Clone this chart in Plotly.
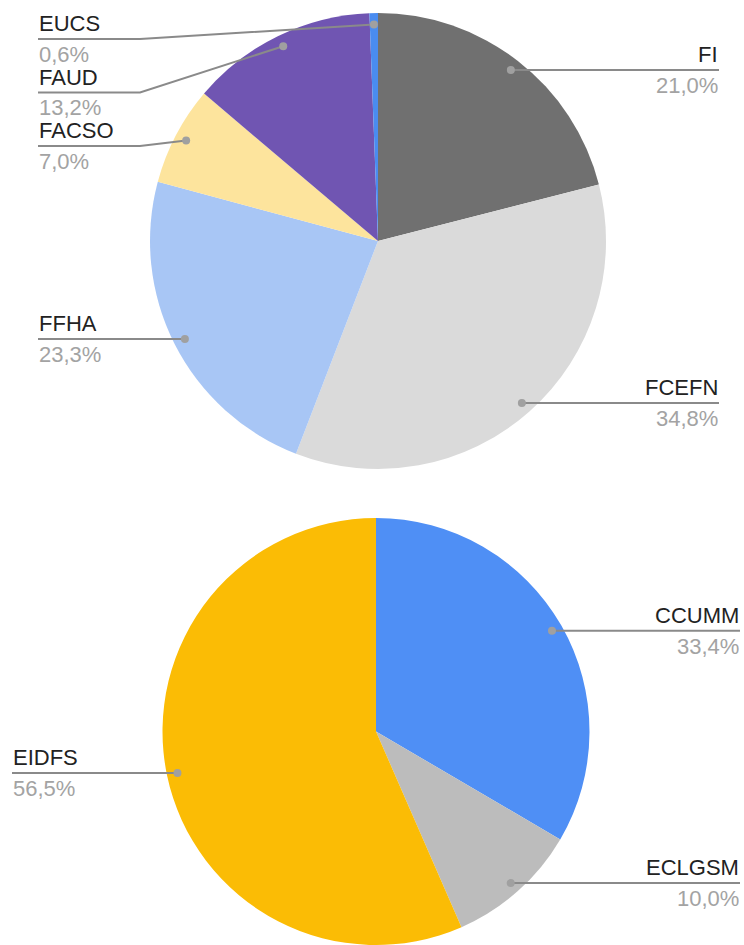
import numpy as np
import plotly.graph_objects as go

W, H = 744, 945

# top pie
top_labels = ['FI', 'FCEFN', 'FFHA', 'FACSO', 'FAUD', 'EUCS']
top_values = [21.0, 34.8, 23.3, 7.0, 13.2, 0.6]
top_colors = ['#707070', '#dadada', '#a8c6f5', '#fde49d', '#7055b2', '#4a8cf0']

# bottom pie
bottom_labels = ['CCUMM', 'ECLGSM', 'EIDFS']
bottom_values = [33.4, 10.0, 56.5]
bottom_colors = ['#4f8ff5', '#bcbcbc', '#fbbc05']

FONT = 'Liberation Sans, Arial, sans-serif'
NAME_COLOR = '#222222'
PCT_COLOR = '#a3a3a3'
LINE_COLOR = '#8a8a8a'
DOT_COLOR = '#a0a0a0'


def px(x):
    return x / W


def py(y):
    return 1 - y / H


def add_pie(fig, labels, values, colors, cx, cy, r, x_left, x_right, y_min,
            gap=53.5, elbow=102):
    """Pie in pixel box + Sheets-like outside labels with leader lines."""
    fig.add_trace(go.Pie(
        labels=labels, values=values, sort=False, direction='clockwise',
        rotation=0, textinfo='none', hoverinfo='label+value',
        marker=dict(colors=colors, line=dict(width=0)),
        domain=dict(x=[px(cx - r), px(cx + r)], y=[py(cy + r), py(cy - r)]),
        showlegend=False,
    ))

    vals = np.asarray(values, dtype=float)
    frac = (np.cumsum(vals) - vals / 2) / vals.sum()
    ang = 2 * np.pi * frac
    dot_x = cx + 0.95 * r * np.sin(ang)
    dot_y = cy - 0.95 * r * np.cos(ang)
    right = np.sin(ang) >= 0

    shapes, annotations = [], []
    for side in (True, False):
        idx = [i for i in np.argsort(dot_y) if right[i] == side]
        prev = y_min - gap
        for i in idx:
            # push labels down so they don't collide
            ly = max(dot_y[i], prev + gap)
            prev = ly
            xt = x_right if side else x_left
            if abs(ly - dot_y[i]) < 1:
                path = f"M {px(xt)},{py(ly)} L {px(dot_x[i])},{py(dot_y[i])}"
            else:
                xe = xt - elbow if side else xt + elbow
                path = (f"M {px(xt)},{py(ly)} L {px(xe)},{py(ly)} "
                        f"L {px(dot_x[i])},{py(dot_y[i])}")
            shapes.append(dict(type='path', path=path, xref='paper',
                               yref='paper', line=dict(color=LINE_COLOR,
                                                       width=2)))
            shapes.append(dict(type='circle', xref='paper', yref='paper',
                               x0=px(dot_x[i] - 4), x1=px(dot_x[i] + 4),
                               y0=py(dot_y[i] + 4), y1=py(dot_y[i] - 4),
                               fillcolor=DOT_COLOR, line=dict(width=0)))
            anchor = 'right' if side else 'left'
            annotations.append(dict(
                x=px(xt), y=py(ly - 3), xref='paper', yref='paper',
                text=labels[i], showarrow=False, xanchor=anchor,
                yanchor='bottom', height=24, borderpad=0,
                font=dict(size=22, color=NAME_COLOR)))
            pct = f"{values[i]:.1f}".replace('.', ',') + '%'
            annotations.append(dict(
                x=px(xt), y=py(ly + 2), xref='paper', yref='paper',
                text=pct, showarrow=False, xanchor=anchor,
                yanchor='top', height=24, borderpad=0,
                font=dict(size=22, color=PCT_COLOR)))
    return shapes, annotations


fig = go.Figure()
s1, a1 = add_pie(fig, top_labels, top_values, top_colors,
                 cx=378, cy=241, r=228, x_left=38, x_right=719, y_min=39)
s2, a2 = add_pie(fig, bottom_labels, bottom_values, bottom_colors,
                 cx=376, cy=731.5, r=213.5, x_left=12, x_right=740, y_min=39)

fig.update_layout(
    width=W, height=H, margin=dict(l=0, r=0, t=0, b=0),
    paper_bgcolor='white', plot_bgcolor='white',
    font=dict(family=FONT),
    shapes=s1 + s2, annotations=a1 + a2,
)

# page body has a default 8px margin; drop it so the figure fills the window
fig.write_html("out.html", config={'displayModeBar': False},
               post_script="document.body.style.margin='0';"
                           "document.body.style.overflow='hidden';")
